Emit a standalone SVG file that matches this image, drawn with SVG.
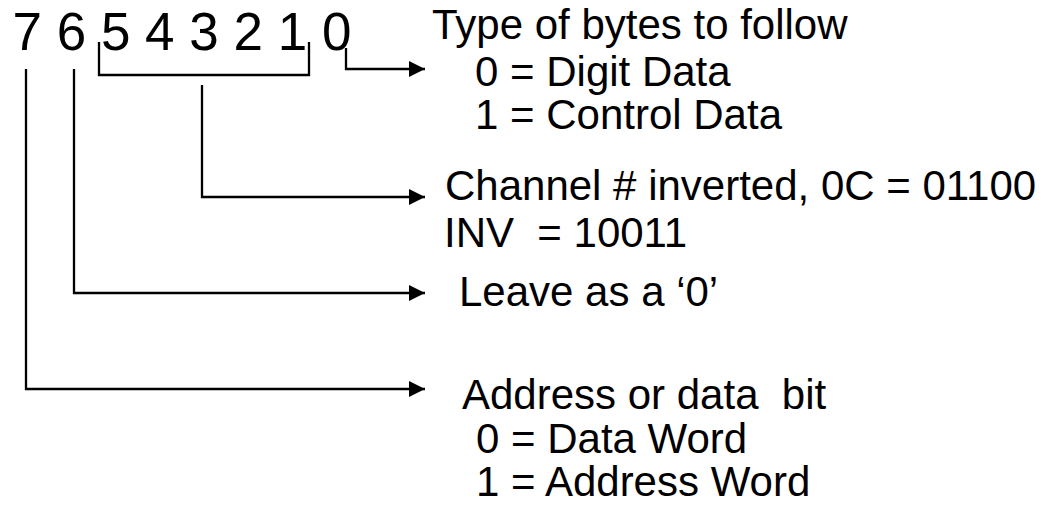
<svg xmlns="http://www.w3.org/2000/svg" width="1052" height="506" viewBox="0 0 1052 506">
  <style>
    .bits { font-family: "Liberation Sans", Arial, sans-serif; font-size: 53px; fill: #000; }
    .lbl { font-family: "Liberation Sans", Arial, sans-serif; font-size: 42px; fill: #000; }
    .wire { fill: none; stroke: #000; stroke-width: 2.3; }
  </style>
  <defs>
    <marker id="arrow" viewBox="0 0 16 16" refX="16" refY="8" markerWidth="16" markerHeight="16" markerUnits="userSpaceOnUse" orient="auto">
      <path d="M0,0 L16,8 L0,16 Z" fill="#000"/>
    </marker>
  </defs>
  <rect width="1052" height="506" fill="#fff"/>

  <!-- bit numbers of the byte -->
  <g id="bits">
    <text class="bits" x="12.5" y="50">7 6 5 4 3 2 1 0</text>
  </g>

  <!-- field descriptions -->
  <g id="bit0-desc">
    <text class="lbl" x="432" y="39">Type of bytes to follow</text>
    <text class="lbl" x="475" y="86">0 = Digit Data</text>
    <text class="lbl" x="475" y="129">1 = Control Data</text>
  </g>
  <g id="channel-desc">
    <text class="lbl" x="445" y="200">Channel # inverted, 0C = 01100</text>
    <text class="lbl" x="444" y="247" xml:space="preserve">INV  = 10011</text>
  </g>
  <g id="bit6-desc">
    <text class="lbl" x="459" y="306">Leave as a ‘0’</text>
  </g>
  <g id="bit7-desc">
    <text class="lbl" x="462" y="409" xml:space="preserve">Address or data  bit</text>
    <text class="lbl" x="476" y="453">0 = Data Word</text>
    <text class="lbl" x="476" y="496">1 = Address Word</text>
  </g>

  <!-- connectors -->
  <g id="connectors">
    <path class="wire" d="M346,48 V69 H425" marker-end="url(#arrow)"/>
    <path class="wire" d="M99,42 V75 H309 V42"/>
    <path class="wire" d="M202,85 V197 H425" marker-end="url(#arrow)"/>
    <path class="wire" d="M74,69 V293 H425" marker-end="url(#arrow)"/>
    <path class="wire" d="M26,69 V389 H425" marker-end="url(#arrow)"/>
  </g>
</svg>
